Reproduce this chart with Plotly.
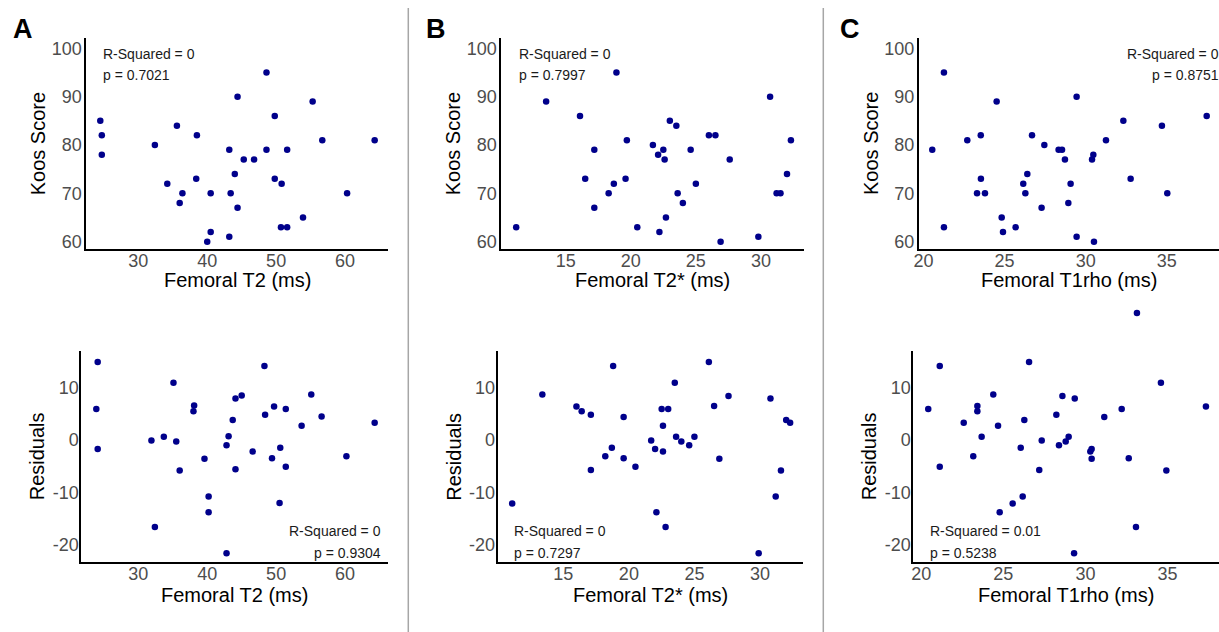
import plotly.graph_objects as go

# ---------------- data ----------------
t2_x = [24.48, 24.7, 24.7, 32.4, 34.2, 35.6, 36.0, 36.4, 38.4, 38.5, 40.0, 40.5, 40.5, 43.2, 43.2, 43.4, 44.0,
        44.4, 44.4, 45.3, 46.8, 48.6, 48.6, 49.8, 49.8, 50.8, 50.7, 51.6, 51.6, 53.9, 55.3, 56.7, 60.3, 64.3]
t2_koos = [85, 82, 78, 80, 72, 84, 68, 70, 73, 82, 60, 62, 70, 61, 79, 70, 74,
           90, 67, 77, 77, 95, 79, 86, 73, 72, 63, 63, 79, 65, 89, 81, 70, 81]
t2_res_x = [24.1, 23.9, 24.1, 31.9, 33.7, 35.1, 35.5, 36.0, 38.0, 38.1, 39.6, 40.2, 40.2, 32.4, 42.8, 43.1, 43.7, 44.1,
            44.1, 45.0, 46.6, 48.3, 48.4, 49.4, 49.7, 50.6, 50.5, 51.4, 51.4, 53.7, 55.1, 56.6, 60.2, 64.3, 42.8]
t2_res = [14.9, 5.9, -1.7, -0.1, 0.6, 10.9, -0.3, -5.8, 5.5, 6.6, -3.6, -10.8, -13.8, -16.6, -1.0, 0.7, 3.8, 7.9,
          -5.6, 8.5, -2.2, 14.1, 4.8, -3.5, 6.4, -1.5, -12.0, 5.9, -5.1, 2.7, 8.7, 4.5, -3.1, 3.3, -21.6]

t2s_x = [11.2, 13.5, 16.1, 16.5, 17.2, 17.2, 18.3, 18.7, 18.9, 19.6, 19.7, 20.5, 21.7, 22.1, 22.2, 22.5, 22.6,
         22.7, 23.0, 23.5, 23.6, 24.0, 24.6, 25.0, 26.0, 26.5, 26.9, 27.6, 29.8, 30.7, 31.2, 31.5, 32.0, 32.3]
t2s_koos = [63, 89, 86, 73, 79, 67, 70, 72, 95, 73, 81, 63, 80, 78, 62, 79, 77,
            65, 85, 84, 70, 68, 79, 72, 82, 82, 60, 77, 61, 90, 70, 70, 74, 81]
t2s_res_x = [11.1, 13.4, 16.0, 16.4, 17.1, 17.1, 18.2, 18.7, 18.8, 19.6, 19.6, 20.5, 21.7, 22.0, 22.1, 22.5, 22.6, 22.6,
             22.8, 23.0, 23.5, 23.6, 24.0, 24.6, 25.0, 26.1, 26.5, 26.9, 27.6, 29.9, 30.8, 31.2, 31.6, 32.0, 32.3]
t2s_res = [-12.1, 8.7, 6.4, 5.5, 4.8, -5.7, -3.1, -1.5, 14.1, 4.4, -3.5, -5.1, -0.1, -1.7, -13.8, 5.9, 2.7, -2.2,
           -16.6, 5.9, 10.9, 0.6, -0.3, -1.0, 0.6, 14.9, 6.5, -3.6, 8.4, -21.6, 7.9, -10.8, -5.8, 3.8, 3.3]

t1r_x = [20.54, 21.26, 21.26, 22.70, 23.30, 23.53, 23.54, 23.79, 24.51, 24.82, 24.90, 25.68, 26.15, 26.28, 26.40,
         26.69, 27.28, 27.45, 28.33, 28.54, 28.72, 28.93, 29.07, 29.44, 29.44, 30.39, 30.47, 30.51, 31.25, 32.32,
         32.77, 34.70, 35.03, 37.46]
t1r_koos = [79, 95, 63, 81, 70, 82, 73, 70, 89, 65, 62, 63, 72, 70, 74,
            82, 67, 80, 79, 79, 77, 68, 72, 90, 61, 77, 78, 60, 81, 85,
            73, 84, 70, 86]
t1r_res_x = [20.43, 21.13, 21.13, 22.59, 23.17, 23.42, 23.42, 23.68, 24.39, 24.68, 24.78, 25.57, 26.06, 26.18, 26.28,
             26.57, 27.19, 27.34, 28.23, 28.39, 28.60, 28.80, 28.98, 29.31, 29.35, 30.30, 30.38, 30.38, 31.15, 32.21,
             32.64, 33.08, 33.14, 34.60, 34.93, 37.34]
t1r_res = [5.9, 14.1, -5.1, 3.3, -3.1, 6.5, 5.5, 0.6, 8.7, 2.7, -13.8, -12.1, -1.5, -10.8, 3.8,
           14.9, -5.7, -0.1, 4.8, -1.0, 8.4, -0.3, 0.6, -21.6, 7.9, -2.2, -1.7, -3.6, 4.4, 5.9,
           -3.5, -16.6, 24.2, 10.9, -5.8, 6.4]

koos_ticks = [60, 70, 80, 90, 100]
res_ticks = [-20, -10, 0, 10]
t2_ticks = [30, 40, 50, 60]
t2s_ticks = [15, 20, 25, 30]
t1r_ticks = [20, 25, 30, 35]

x_titles = ["Femoral T2 (ms)", "Femoral T2* (ms)", "Femoral T1rho (ms)"]
panel_letters = ["A", "B", "C"]
stats_top = [("R-Squared = 0", "p = 0.7021"), ("R-Squared = 0", "p = 0.7997"), ("R-Squared = 0", "p = 0.8751")]
stats_res = [("R-Squared = 0", "p = 0.9304"), ("R-Squared = 0", "p = 0.7297"), ("R-Squared = 0.01", "p = 0.5238")]

# ---------------- geometry (pixels) ----------------
W, H = 1219, 632
FONT = "Liberation Sans, Arial, Helvetica, sans-serif"
DOT = "#00008B"
TICKC = "#4D4D4D"

# each subplot: left px, right px, (ref value, ref px, px per unit) for x
top_geo = [
    (86.3, 388.3, 30, 138.33, 6.89),
    (501.3, 804.0, 15, 565.67, 13.02),
    (919.0, 1219.0, 20, 923.5, 16.22),
]
res_geo = [
    (81.3, 388.3, 30, 138.33, 6.89),
    (497.7, 803.3, 15, 563.33, 13.11),
    (913.3, 1219.0, 20, 921.2, 16.42),
]
TOP_Y = (38.0, 249.0, 100, 48.33, 4.833)      # top px, bottom px, ref value, ref px, px/unit
RES_Y = (350.7, 562.3, 0, 440.0, 5.243)
EXT_TOP = 295.0                                # extended (invisible) area for points above the panel


def xrange_of(l, r, v, p, s):
    return [v + (l - p) / s, v + (r - p) / s]


def yrange_of(t, b, v, p, s):
    return [v - (b - p) / s, v + (p - t) / s]


fig = go.Figure()

panels = [
    (t2_x, t2_koos, t2_res_x, t2_res, t2_ticks),
    (t2s_x, t2s_koos, t2s_res_x, t2s_res, t2s_ticks),
    (t1r_x, t1r_koos, t1r_res_x, t1r_res, t1r_ticks),
]

layout = {}
annotations = []
ax_i = 0
extra_i = 6
marker = dict(color=DOT, size=6.5, line=dict(width=0))
for i, (xt, yt, xr, yr, xticks) in enumerate(panels):
    for row, (xs, ys, geo, ygeo, yticks, ytitle) in enumerate([
        (xt, yt, top_geo[i], TOP_Y, koos_ticks, "Koos Score"),
        (xr, yr, res_geo[i], RES_Y, res_ticks, "Residuals"),
    ]):
        ax_i += 1
        sfx = "" if ax_i == 1 else str(ax_i)
        l, r, v, p, s = geo
        t, b, yv, yp, ys_ = ygeo
        yr_ = yrange_of(t, b, yv, yp, ys_)
        inside = [(a, c) for a, c in zip(xs, ys) if yr_[0] <= c <= yr_[1]]
        outside = [(a, c) for a, c in zip(xs, ys) if not (yr_[0] <= c <= yr_[1])]
        fig.add_trace(go.Scatter(
            x=[a for a, _ in inside], y=[c for _, c in inside], mode="markers",
            xaxis="x" + sfx, yaxis="y" + sfx, marker=marker,
            cliponaxis=False, showlegend=False, hoverinfo="x+y"))
        common = dict(showline=True, linecolor="black", linewidth=2, showgrid=False, zeroline=False,
                      ticks="", automargin=False,
                      tickfont=dict(family=FONT, size=18, color=TICKC))
        layout["xaxis" + sfx] = dict(domain=[l / W, min(r / W, 1.0)], range=xrange_of(l, r, v, p, s),
                                     tickvals=xticks, ticktext=[str(k) for k in xticks],
                                     anchor="y" + sfx, ticklabelstandoff=-6, **common)
        layout["yaxis" + sfx] = dict(domain=[1 - b / H, 1 - t / H], range=yr_,
                                     tickvals=yticks, ticktext=[str(k) for k in yticks],
                                     anchor="x" + sfx,
                                     ticklabelstandoff=(-1 if row == 0 else -3), **common)
        if outside:
            extra_i += 1
            esfx = str(extra_i)
            layout["yaxis" + esfx] = dict(domain=[1 - b / H, 1 - EXT_TOP / H],
                                          range=yrange_of(EXT_TOP, b, yv, yp, ys_),
                                          visible=False, showgrid=False, zeroline=False,
                                          anchor="x" + sfx, automargin=False)
            fig.add_trace(go.Scatter(
                x=[a for a, _ in outside], y=[c for _, c in outside], mode="markers",
                xaxis="x" + sfx, yaxis="y" + esfx, marker=marker,
                cliponaxis=False, showlegend=False, hoverinfo="x+y"))
        # axis titles
        annotations.append(dict(text=x_titles[i], xref="paper", yref="paper",
                                x=((l + min(r, W)) / 2) / W, y=1 - (b + (31 if row == 0 else 33)) / H,
                                xanchor="center", yanchor="middle", showarrow=False,
                                font=dict(family=FONT, size=20, color="black")))
        annotations.append(dict(text=ytitle, xref="paper", yref="paper",
                                x=(l - 48.5 if row == 0 else l - 44.5) / W, y=1 - ((t + b) / 2) / H,
                                textangle=-90,
                                xanchor="center", yanchor="middle", showarrow=False,
                                font=dict(family=FONT, size=20, color="black")))

# stats annotations (pixel anchors)
stat_pos_top = [(101, "left"), (516.7, "left"), (1220.5, "right")]
stat_pos_res = [(382.5, "right"), (512.3, "left"), (928.3, "left")]
for i in range(3):
    for (txt, yy) in zip(stats_top[i], (53.8, 75.5)):
        xpx, anc = stat_pos_top[i]
        annotations.append(dict(text=txt, xref="paper", yref="paper", x=xpx / W, y=1 - yy / H,
                                xanchor=anc, yanchor="middle", showarrow=False,
                                font=dict(family=FONT, size=14, color="#1a1a1a")))
    for (txt, yy) in zip(stats_res[i], (530.5, 552.5)):
        xpx, anc = stat_pos_res[i]
        annotations.append(dict(text=txt, xref="paper", yref="paper", x=xpx / W, y=1 - yy / H,
                                xanchor=anc, yanchor="middle", showarrow=False,
                                font=dict(family=FONT, size=14, color="#1a1a1a")))

# panel letters
for letter, xpx in zip(panel_letters, (22.5, 435.5, 850.0)):
    annotations.append(dict(text="<b>" + letter + "</b>", xref="paper", yref="paper", x=xpx / W, y=1 - 28.5 / H,
                            xanchor="center", yanchor="middle", showarrow=False,
                            font=dict(family=FONT, size=27, color="black")))

shapes = []
for xpx in (408.3, 823.3):
    shapes.append(dict(type="line", xref="paper", yref="paper", x0=xpx / W, x1=xpx / W,
                       y0=1 - 8 / H, y1=0, line=dict(color="#A6A6A6", width=1.5)))

fig.update_layout(
    width=W, height=H, margin=dict(l=0, r=0, t=0, b=0),
    paper_bgcolor="white", plot_bgcolor="rgba(0,0,0,0)",
    template="none", showlegend=False,
    annotations=annotations, shapes=shapes,
    **layout,
)

fig.write_html("out.html")
